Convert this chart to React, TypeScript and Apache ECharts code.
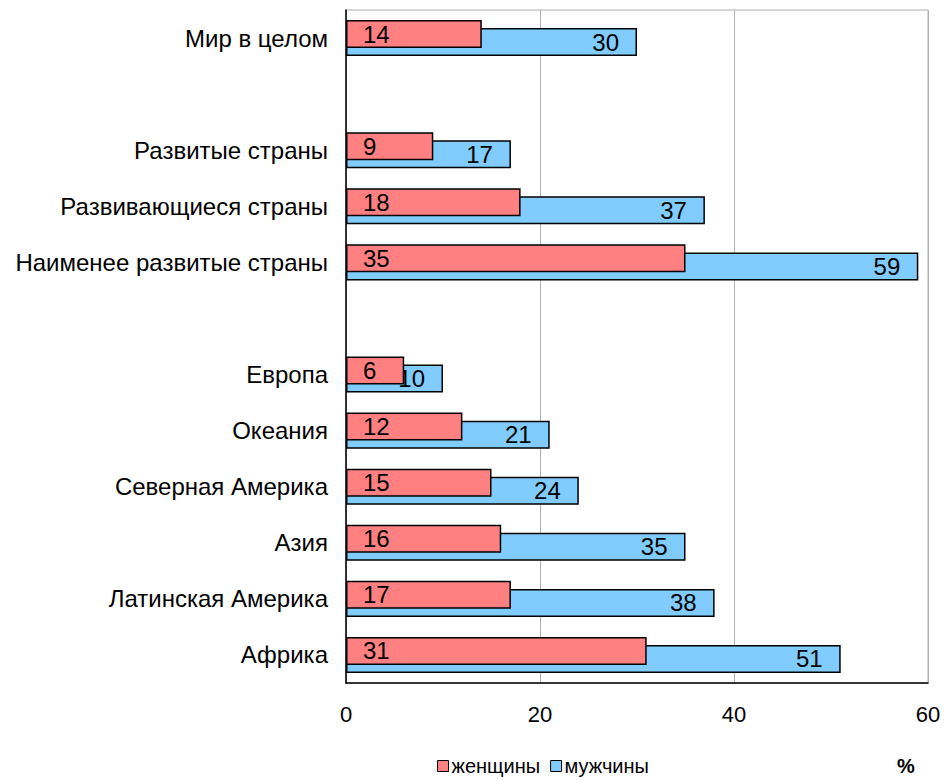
import React, { useEffect, useRef } from "react";
import * as echarts from "echarts";

const categories = [
  "Мир в целом",
  "",
  "Развитые страны",
  "Развивающиеся страны",
  "Наименее развитые страны",
  " ",
  "Европа",
  "Океания",
  "Северная Америка",
  "Азия",
  "Латинская Америка",
  "Африка",
];
const women: (number | null)[] = [14, null, 9, 18, 35, null, 6, 12, 15, 16, 17, 31];
const men: (number | null)[] = [30, null, 17, 37, 59, null, 10, 21, 24, 35, 38, 51];
const xTicks = [0, 20, 40, 60];
const seriesNames = ["женщины", "мужчины"];
const unitLabel = "%";

const FONT = "Liberation Sans, Arial, sans-serif";

export default function App() {
  const ref = useRef<HTMLDivElement>(null);
  useEffect(() => {
    if (!ref.current) return;
    const chart = echarts.init(ref.current, null, { renderer: "svg" });
    chart.setOption({
      animation: false,
      textStyle: { fontFamily: FONT },
      grid: {
        left: 346,
        right: 18,
        top: 10,
        bottom: 97,
        show: true,
        borderColor: "#b0b0b0",
        borderWidth: 1,
      },
      legend: {
        top: 756,
        left: 437,
        padding: 0,
        icon: "rect",
        itemWidth: 11,
        itemHeight: 11,
        itemGap: 10,
        textStyle: { fontSize: 20, color: "#000", fontFamily: FONT, padding: [0, 0, 0, -2] },
        itemStyle: { borderColor: "#000", borderWidth: 1 },
        data: seriesNames,
      },
      xAxis: {
        type: "value",
        min: xTicks[0],
        max: xTicks[xTicks.length - 1],
        interval: 20,
        axisLine: { show: true, lineStyle: { color: "#000", width: 1.5 } },
        axisTick: { show: false },
        splitLine: { show: true, lineStyle: { color: "#b0b0b0", width: 1 } },
        axisLabel: { fontSize: 22, color: "#000", margin: 20, fontFamily: FONT },
      },
      yAxis: {
        type: "category",
        inverse: true,
        data: categories,
        axisLine: { show: true, lineStyle: { color: "#000", width: 1.5 } },
        axisTick: { show: false },
        axisLabel: { fontSize: 24, color: "#000", margin: 18, fontFamily: FONT },
      },
      series: [
        {
          name: seriesNames[0],
          type: "bar",
          data: women,
          barWidth: 28,
          barGap: "-71.4%",
          z: 3,
          itemStyle: { color: "#FF8080", borderColor: "#000", borderWidth: 1.5 },
          label: {
            show: true,
            position: "insideLeft",
            distance: 17,
            fontSize: 24,
            color: "#000",
            fontFamily: FONT,
          },
        },
        {
          name: seriesNames[1],
          type: "bar",
          data: men,
          barWidth: 28,
          z: 2,
          itemStyle: { color: "#80CCFF", borderColor: "#000", borderWidth: 1.5 },
          label: {
            show: true,
            position: "insideRight",
            distance: 18,
            fontSize: 24,
            color: "#000",
            fontFamily: FONT,
          },
        },
      ],
      graphic: [
        {
          type: "text",
          left: 897,
          top: 756,
          style: { text: unitLabel, font: `bold 20px ${FONT}`, fill: "#000" },
        },
      ],
    });
    return () => chart.dispose();
  }, []);
  return (
    <div
      ref={ref}
      style={{ position: "absolute", left: 0, top: 0, width: 946, height: 780, background: "#fff" }}
    />
  );
}
